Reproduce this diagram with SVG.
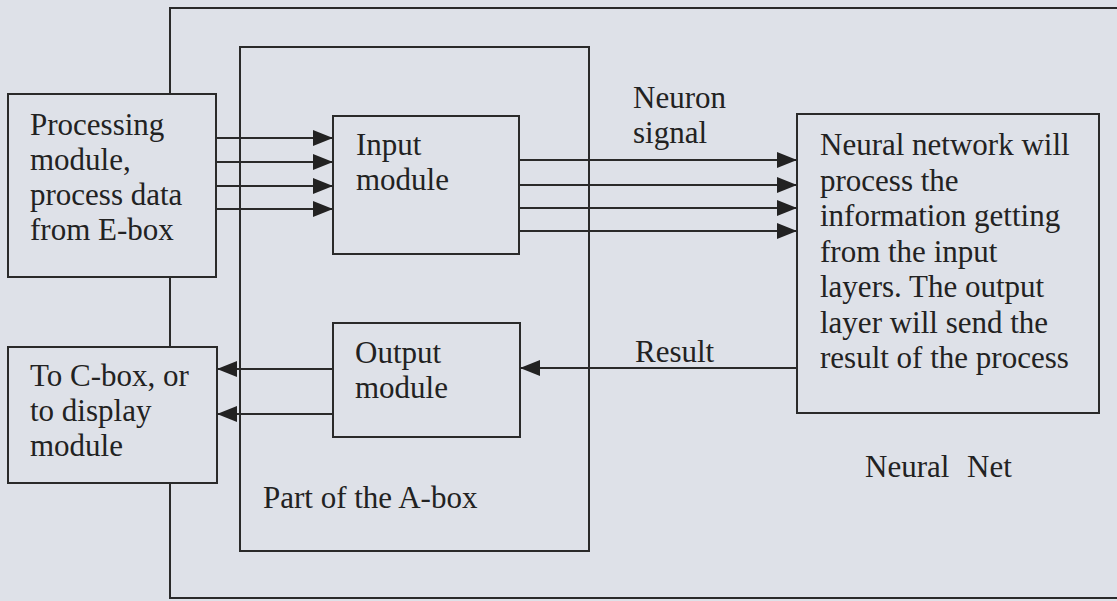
<svg xmlns="http://www.w3.org/2000/svg" width="1117" height="601" viewBox="0 0 1117 601">
<style>
.bx{fill:#dee1e8;stroke:#2a2a2a;stroke-width:2}
.ln{fill:none;stroke:#2a2a2a;stroke-width:2}
.t{font-family:"Liberation Serif","Times New Roman",serif;font-size:31px;fill:#222}
</style>
<defs>
<marker id="ah" markerUnits="userSpaceOnUse" markerWidth="20" markerHeight="16" refX="20" refY="8" orient="auto">
<path d="M0,0 L20,8 L0,16 z" fill="#222"/>
</marker>
</defs>
<rect x="0" y="0" width="1117" height="601" fill="#dee1e8"/>
<g id="frame">
<path class="ln" d="M1117,8 H170 V598 H1117"/>
</g>
<g id="abox">
<rect class="bx" x="240" y="47" width="349" height="504"/>
<text class="t" x="263" y="508">Part of the A-box</text>
</g>
<g id="processing">
<rect class="bx" x="8" y="94" width="208" height="183"/>
<text class="t"><tspan x="30" y="135">Processing</tspan><tspan x="30" y="170">module,</tspan><tspan x="30" y="205">process data</tspan><tspan x="30" y="240">from E-box</tspan></text>
</g>
<g id="cbox">
<rect class="bx" x="8" y="347" width="209" height="136"/>
<text class="t"><tspan x="30" y="386">To C-box, or</tspan><tspan x="30" y="421">to display</tspan><tspan x="30" y="456">module</tspan></text>
</g>
<g id="input">
<rect class="bx" x="333" y="116" width="186" height="138"/>
<text class="t"><tspan x="356" y="155">Input</tspan><tspan x="356" y="190">module</tspan></text>
</g>
<g id="output">
<rect class="bx" x="333" y="323" width="187" height="114"/>
<text class="t"><tspan x="355" y="363">Output</tspan><tspan x="355" y="398">module</tspan></text>
</g>
<g id="neural">
<rect class="bx" x="797" y="114" width="302" height="299"/>
<text class="t"><tspan x="820" y="155">Neural network will</tspan><tspan x="820" y="190.5">process the</tspan><tspan x="820" y="226">information getting</tspan><tspan x="820" y="261.5">from the input</tspan><tspan x="820" y="297">layers. The output</tspan><tspan x="820" y="332.5">layer will send the</tspan><tspan x="820" y="368">result of the process</tspan></text>
<text class="t" y="477"><tspan x="865">Neural</tspan><tspan x="967">Net</tspan></text>
</g>
<g id="connectors">
<line class="ln" x1="216" y1="138" x2="333" y2="138" marker-end="url(#ah)"/>
<line class="ln" x1="216" y1="162" x2="333" y2="162" marker-end="url(#ah)"/>
<line class="ln" x1="216" y1="186" x2="333" y2="186" marker-end="url(#ah)"/>
<line class="ln" x1="216" y1="209" x2="333" y2="209" marker-end="url(#ah)"/>
<line class="ln" x1="519" y1="160" x2="797" y2="160" marker-end="url(#ah)"/>
<line class="ln" x1="519" y1="185" x2="797" y2="185" marker-end="url(#ah)"/>
<line class="ln" x1="519" y1="208" x2="797" y2="208" marker-end="url(#ah)"/>
<line class="ln" x1="519" y1="231" x2="797" y2="231" marker-end="url(#ah)"/>
<line class="ln" x1="797" y1="368" x2="520" y2="368" marker-end="url(#ah)"/>
<line class="ln" x1="333" y1="369" x2="217" y2="369" marker-end="url(#ah)"/>
<line class="ln" x1="333" y1="414" x2="217" y2="414" marker-end="url(#ah)"/>
<text class="t"><tspan x="633" y="108">Neuron</tspan><tspan x="633" y="143">signal</tspan></text>
<text class="t" x="635" y="362">Result</text>
</g>
</svg>
